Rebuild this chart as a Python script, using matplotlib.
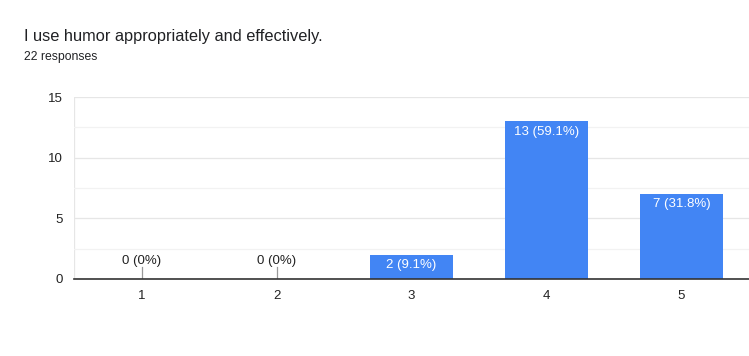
import matplotlib.pyplot as plt
from matplotlib.ticker import MultipleLocator

categories = ["1", "2", "3", "4", "5"]
counts = [0, 0, 2, 13, 7]
labels = ["0 (0%)", "0 (0%)", "2 (9.1%)", "13 (59.1%)", "7 (31.8%)"]

plt.rcParams['font.family'] = ['Liberation Sans', 'DejaVu Sans']

fig = plt.figure(figsize=(7.49, 3.56), dpi=100)
ax = fig.add_axes([0.0988, 0.2163, 0.9012, 0.511])

x = list(range(1, len(categories) + 1))
bars = ax.bar(x, counts, width=0.62, color="#4285f4", zorder=3)

for xi, c, lab in zip(x, counts, labels):
    if c == 0:
        ax.plot([xi, xi], [0, 0.95], color="#999999", lw=0.9, zorder=4)
        ax.text(xi, 1.5, lab, ha="center", va="center", fontsize=9.5, color="#222222")
    else:
        ax.annotate(lab, xy=(xi, c), xytext=(0, -3), textcoords="offset points",
                    ha="center", va="top", fontsize=9.5, color="white", zorder=5)

ax.set_xlim(0.5, 5.5)
ax.set_ylim(0, 15)
ax.set_xticks(x)
ax.set_xticklabels(categories)
ax.yaxis.set_major_locator(MultipleLocator(5))
ax.yaxis.set_minor_locator(MultipleLocator(2.5))
ax.grid(axis="y", which="major", color="#e6e6e6", lw=0.9, zorder=0)
ax.grid(axis="y", which="minor", color="#f2f2f2", lw=0.9, zorder=0)
for s in ["top", "right", "left"]:
    ax.spines[s].set_visible(False)
ax.spines["bottom"].set_color("#333333")
ax.spines["bottom"].set_linewidth(1.2)
ax.spines["bottom"].set_zorder(6)
ax.tick_params(axis="both", which="both", length=0, labelsize=9.5, colors="#222222")
ax.tick_params(axis="x", pad=8)
ax.tick_params(axis="y", pad=8)
# left gridline edge
ax.axvline(0.5, color="#e6e6e6", lw=0.9, zorder=0)

fig.text(24 / 749, 1 - 36 / 356, "I use humor appropriately and effectively.",
         fontsize=11.8, color="#202124", va="center", ha="left")
fig.text(24 / 749, 1 - 57 / 356, "22 responses", fontsize=8.8, color="#202124",
         va="center", ha="left")

fig.savefig("out.png", dpi=100, facecolor="white")
